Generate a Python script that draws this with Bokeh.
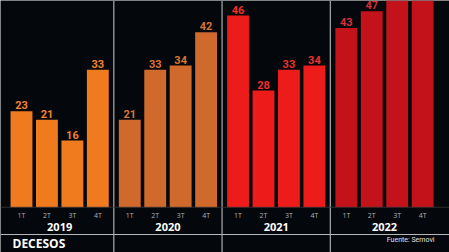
from bokeh.plotting import figure
from bokeh.models import ColumnDataSource, Span, Label, Range1d
from bokeh.core.properties import value
from bokeh.embed import file_html
from bokeh.resources import INLINE

years = ["2019", "2020", "2021", "2022"]
quarters = ["1T", "2T", "3T", "4T"]
deaths = {
    "2019": [23, 21, 16, 33],
    "2020": [21, 33, 34, 42],
    "2021": [46, 28, 33, 34],
    "2022": [43, 47, 56, 60],
}
bar_colors = ["#F07A1E", "#CF6A2C", "#EE1B1B", "#C4121A"]
label_colors = ["#F4822F", "#DA7434", "#F0302A", "#D8303A"]
title_text = "DECESOS"
source_text = "Fuente: Semovi"

GAP = 0.255  # extra space between year groups, in bar slots
BG = "#04070b"
YMAX = 49.6
NARROW = "Roboto"

xs, tops, fills, lcols, labels, qlabs = [], [], [], [], [], []
for g, y in enumerate(years):
    for i, q in enumerate(quarters):
        xs.append(g * (len(quarters) + GAP) + i)
        tops.append(deaths[y][i])
        fills.append(bar_colors[g])
        lcols.append(label_colors[g])
        labels.append(str(deaths[y][i]))
        qlabs.append(q)

src = ColumnDataSource(dict(x=xs, top=tops, fill=fills, lcol=lcols, q=qlabs))
# value labels only where they fall inside the visible frame (as in the original crop)
vis = [k for k, t in enumerate(tops) if t < YMAX - 2]
lsrc = ColumnDataSource(dict(x=[xs[k] for k in vis], top=[tops[k] for k in vis],
                             lcol=[lcols[k] for k in vis], lab=[labels[k] for k in vis]))

p = figure(width=449, height=252, output_backend="svg", toolbar_location=None,
           x_range=Range1d(-0.825, 16.82), y_range=Range1d(-10.86, YMAX),
           min_border=0, background_fill_color=BG, border_fill_color=BG,
           outline_line_color=None)
p.axis.visible = False
p.grid.visible = False

p.vbar(x="x", top="top", bottom=0, width=0.86, fill_color="fill", line_color=None, source=src)
p.text(x="x", y="top", text="lab", text_color="lcol", text_align="center",
       text_baseline="bottom", y_offset=-2, text_font=value(NARROW),
       text_font_size="11px", text_font_style="bold", source=lsrc)

# quarter labels
for xv, t in zip(xs, qlabs):
    p.add_layout(Label(x=xv, y=252 - 215, y_units="screen", text=t, text_align="center",
                       text_baseline="middle", text_color="#b0b0b0", text_font_size="7px",
                       text_font="Open Sans"))

# year labels and separators
n = len(quarters)
for g, y in enumerate(years):
    cx = g * (n + GAP) + (n - 1) / 2
    p.add_layout(Label(x=cx, y=252 - 226, y_units="screen", text=y, text_align="center",
                       text_baseline="middle", text_color="#ffffff", text_font_size="11px",
                       text_font_style="bold", text_font="Open Sans"))
    if g < len(years) - 1:
        sx = g * (n + GAP) + (n - 1) + (1 + GAP) / 2
        p.add_layout(Span(location=sx, dimension="height", line_color="#a0a0a0", line_width=1.3))

p.add_layout(Span(location=0, dimension="width", line_color="#3a3a3a", line_width=0.8))
p.add_layout(Span(location=-(234 - 206.7) / 4.17, dimension="width", line_color="#b8b8b8", line_width=1.2))

p.add_layout(Label(x=12, y=252 - 243, x_units="screen", y_units="screen", text=title_text,
                   text_baseline="middle", text_color="#ffffff", text_font_size="12px",
                   text_font_style="bold", text_font="Open Sans"))
p.add_layout(Label(x=434, y=252 - 239, x_units="screen", y_units="screen", text=source_text,
                   text_align="right", text_baseline="middle", text_color="#e0e0e0",
                   text_font_size="7px", text_font=NARROW))

open("out.html", "w").write(file_html(p, INLINE))
